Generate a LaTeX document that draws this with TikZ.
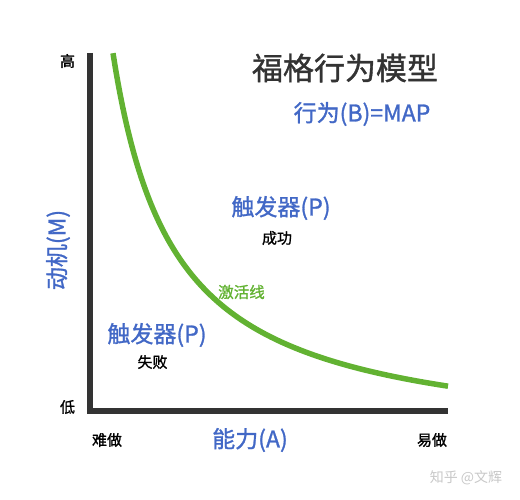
\documentclass[tikz,border=0pt]{standalone}
\usepackage{fontspec}
\setmainfont{Noto Sans CJK SC}
\newfontfamily\mediumcjk[FakeBold=1.2]{Noto Sans CJK SC}

\definecolor{axisgray}{HTML}{333333}
\definecolor{fbblue}{HTML}{4268C6}
\definecolor{fbgreen}{HTML}{62B232}
\definecolor{markgray}{HTML}{C8C8C8}

\tikzset{
  axis/.style = {draw=axisgray, line width=5.5pt, line join=miter},
  curve/.style = {draw=fbgreen, line width=5.5pt},
  title/.style = {text=axisgray, font=\mediumcjk\fontsize{31}{31}\selectfont},
  formula/.style = {text=fbblue, font=\mediumcjk\fontsize{23}{23}\selectfont},
  prompt/.style = {text=fbblue, font=\mediumcjk\fontsize{23}{23}\selectfont},
  axislabel/.style = {text=fbblue, font=\mediumcjk\fontsize{23}{23}\selectfont},
  small/.style = {text=black, font=\mediumcjk\fontsize{15}{15}\selectfont},
  curvelabel/.style = {text=fbgreen, font=\mediumcjk\fontsize{15.5}{15.5}\selectfont},
  watermark/.style = {text=markgray, font=\fontsize{14}{14}\selectfont}
}

\begin{document}
\begin{tikzpicture}[x=1pt, y=-1pt]
    \useasboundingbox (0,0) rectangle (520,500);

    % Axes
    \coordinate (ytop) at (90,53);
    \coordinate (origin) at (90,411);
    \coordinate (xend) at (448,411);
    \draw[axis] (ytop) -- (origin) -- (xend);

    % Activation line
    \draw[curve] plot[domain=113:448, samples=120, smooth]
        (\x, {447 - 241/((\x-51.8)/100)});

    % Titles
    \node[title] (model) at (345,68) {福格行为模型};
    \node[formula] (bmap) at (362,114) {行为(B)=MAP};

    % Prompts
    \node[prompt] (phigh) at (281,208) {触发器(P)};
    \node[small] (success) at (277,238) {成功};
    \node[curvelabel] (activation) at (241.5,292) {激活线};
    \node[prompt] (plow) at (157,335) {触发器(P)};
    \node[small] (fail) at (152.5,362) {失败};

    % Axis labels
    \node[small] (high) at (67.5,61) {高};
    \node[small] (low) at (67.5,407) {低};
    \node[small] (hard) at (107,440) {难做};
    \node[axislabel] (ability) at (250,440) {能力(A)};
    \node[small] (easy) at (432,440) {易做};
    \node[axislabel, rotate=90] (motivation) at (58,250) {动机(M)};

    % Watermark
    \node[watermark] (mark) at (466,478) {知乎 @文辉};
\end{tikzpicture}
\end{document}
